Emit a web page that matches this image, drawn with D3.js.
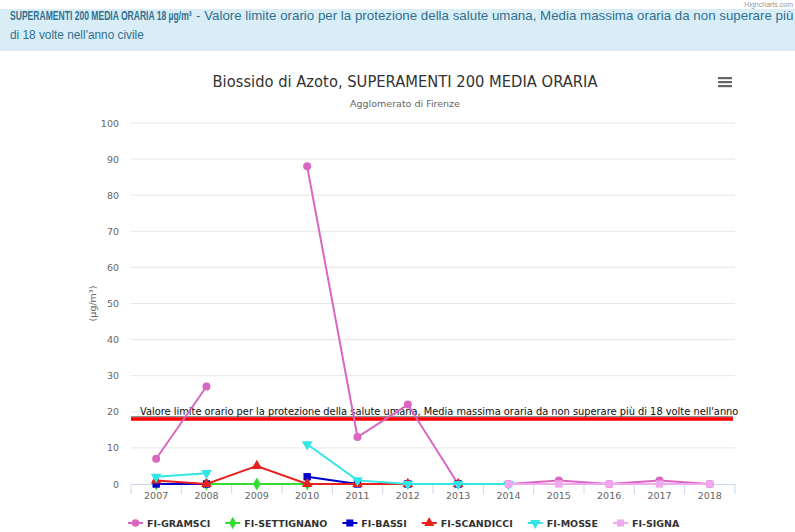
<!DOCTYPE html>
<html>
<head>
<meta charset="utf-8">
<script src="https://cdn.jsdelivr.net/npm/d3@7"></script>
<style>
  body { margin: 0; background: #fff; }
  svg { display: block; font-family: "DejaVu Sans", Verdana, sans-serif; }
</style>
</head>
<body>
<div id="chart"></div>
<script>
// data
var years = ["2007", "2008", "2009", "2010", "2011", "2012", "2013", "2014", "2015", "2016", "2017", "2018"]
var gramsci    = [7, 27, null, 88, 13, 22, 0, 0, 1, 0, 1, 0]
var settignano = [0, 0, 0, 0, null, null, null, null, null, null, null, null]
var bassi      = [0, 0, null, 2, 0, 0, 0, null, null, null, null, null]
var scandicci  = [1, 0, 5, 0, 0, 0, 0, null, null, null, null, null]
var mosse      = [2, 3, null, 11, 1, 0, 0, 0, null, null, null, null]
var signa      = [null, null, null, null, null, null, null, 0, 0, 0, 0, 0]
var yTicks = [0, 10, 20, 30, 40, 50, 60, 70, 80, 90, 100]
var limitValue = 18

var seriesList = [
    { name: "FI-GRAMSCI", values: gramsci, color: "#d966c0", symbol: d3.symbolCircle },
    { name: "FI-SETTIGNANO", values: settignano, color: "#33dd33", symbol: d3.symbolDiamond },
    { name: "FI-BASSI", values: bassi, color: "#0000cc", symbol: d3.symbolSquare },
    { name: "FI-SCANDICCI", values: scandicci, color: "#e8201e", symbol: d3.symbolTriangle },
    { name: "FI-MOSSE", values: mosse, color: "#33e6e6", symbol: d3.symbolTriangle, down: true },
    { name: "FI-SIGNA", values: signa, color: "#f0a8ee", symbol: d3.symbolSquare }
]

var svgWidth = 795
var svgHeight = 532
var margin = { top: 123, bottom: 48, left: 131, right: 60 }

var svg = d3.select("#chart").append("svg")
    .attr("width", svgWidth)
    .attr("height", svgHeight)

// credit
svg.append("text")
    .attr("x", 793).attr("y", 7)
    .attr("text-anchor", "end")
    .attr("font-size", 7)
    .attr("fill", "#999")
    .attr("font-family", "Liberation Sans, Arial, sans-serif")
    .text("Highcharts.com")

// info banner
svg.append("rect")
    .attr("x", 0).attr("y", 9)
    .attr("width", svgWidth).attr("height", 42)
    .attr("fill", "#d9edf7")

var banner = svg.append("g")
    .attr("font-family", "Liberation Sans, Arial, sans-serif")
    .attr("font-size", 12)
    .attr("fill", "#31708f")

// squeeze a text horizontally to a given width (the banner font is condensed)
function squeeze(sel, x, y, width) {
    var w = sel.node().getComputedTextLength()
    sel.attr("transform", `translate(${x}, ${y}) scale(${width / w}, 1)`)
}

banner.append("text")
    .attr("font-weight", "bold")
    .text("SUPERAMENTI 200 MEDIA ORARIA 18 µg/m³")
    .call(squeeze, 10, 20, 182)
banner.append("text")
    .text("- Valore limite orario per la protezione della salute umana, Media massima oraria da non superare più")
    .call(squeeze, 196, 20, 598)
banner.append("text")
    .text("di 18 volte nell'anno civile")
    .call(squeeze, 10, 39, 134)

// title, subtitle
svg.append("text")
    .attr("x", 405).attr("y", 87)
    .attr("text-anchor", "middle")
    .attr("font-size", 15)
    .attr("fill", "#333")
    .attr("textLength", 385).attr("lengthAdjust", "spacingAndGlyphs")
    .text("Biossido di Azoto, SUPERAMENTI 200 MEDIA ORARIA")

svg.append("text")
    .attr("x", 405).attr("y", 107)
    .attr("text-anchor", "middle")
    .attr("font-size", 9.5)
    .attr("fill", "#666")
    .text("Agglomerato di Firenze")

// hamburger icon
var menu = svg.append("g").attr("transform", "translate(718, 77)")
;[0, 4, 8].forEach(function (dy) {
    menu.append("rect")
        .attr("x", 0).attr("y", dy)
        .attr("width", 14).attr("height", 2.2)
        .attr("fill", "#666")
})

var chartWidth = svgWidth - margin.left - margin.right
var chartHeight = svgHeight - margin.top - margin.bottom

var chartGroup = svg.append("g")
    .attr("transform", `translate(${margin.left}, ${margin.top})`)

var xScale = d3.scaleBand()
    .domain(years)
    .range([0, chartWidth])

var yScale = d3.scaleLinear()
    .domain([0, 100])
    .range([chartHeight, 0])

// grid lines
chartGroup.append("g")
    .selectAll("line")
    .data(yTicks.filter(d => d > 0))
    .enter()
    .append("line")
    .attr("x1", 0).attr("x2", chartWidth)
    .attr("y1", d => yScale(d)).attr("y2", d => yScale(d))
    .attr("stroke", "#e6e6e6")

// y axis labels
var yAxis = d3.axisLeft(yScale).tickValues(yTicks).tickSize(0).tickPadding(12)
var yAxisG = chartGroup.append("g").call(yAxis)
yAxisG.select(".domain").remove()
yAxisG.selectAll("text")
    .attr("font-family", "DejaVu Sans, Verdana, sans-serif")
    .attr("font-size", 9.5)
    .attr("fill", "#666")

chartGroup.append("text")
    .attr("transform", `translate(-35, ${yScale(50)}) rotate(-90)`)
    .attr("text-anchor", "middle")
    .attr("font-size", 9.5)
    .attr("fill", "#666")
    .text("(µg/m³)")

// x axis
var xAxis = d3.axisBottom(xScale).tickSize(0).tickPadding(8)
var xAxisG = chartGroup.append("g")
    .attr("transform", `translate(0, ${chartHeight})`)
    .call(xAxis)
xAxisG.select(".domain").attr("stroke", "#ccd6eb")
xAxisG.selectAll("text")
    .attr("font-family", "DejaVu Sans, Verdana, sans-serif")
    .attr("font-size", 9.5)
    .attr("fill", "#666")

// category boundary ticks
xAxisG.append("g")
    .selectAll("line")
    .data(years.concat(["end"]))
    .enter()
    .append("line")
    .attr("x1", (d, i) => i * xScale.step())
    .attr("x2", (d, i) => i * xScale.step())
    .attr("y1", 0).attr("y2", 10)
    .attr("stroke", "#ccd6eb")

// plot line for the limit
var clip = svg.append("clipPath").attr("id", "labelClip")
clip.append("rect")
    .attr("x", 0).attr("y", -20)
    .attr("width", 741 - margin.left).attr("height", chartHeight + 40)

chartGroup.append("line")
    .attr("x1", 0).attr("x2", chartWidth - 2)
    .attr("y1", yScale(limitValue) - 2.2).attr("y2", yScale(limitValue) - 2.2)
    .attr("stroke", "#333")
    .attr("stroke-width", 0.8)
chartGroup.append("line")
    .attr("x1", 0).attr("x2", chartWidth - 2)
    .attr("y1", yScale(limitValue)).attr("y2", yScale(limitValue))
    .attr("stroke", "#ff0000")
    .attr("stroke-width", 3.5)

chartGroup.append("text")
    .attr("clip-path", "url(#labelClip)")
    .attr("x", 9)
    .attr("y", yScale(limitValue) - 4)
    .attr("font-size", 10)
    .attr("fill", "#111")
    .attr("textLength", 627).attr("lengthAdjust", "spacingAndGlyphs")
    .text("Valore limite orario per la protezione della salute umana, Media massima oraria da non superare più di 18 volte nell'anno civile")

// series
var xCenter = d => xScale(d) + xScale.bandwidth() / 2

var line = d3.line()
    .defined(d => d.value !== null)
    .x(d => xCenter(d.year))
    .y(d => yScale(d.value))

function symbolPath(s, size) {
    return d3.symbol().type(s.symbol).size(size)()
}

seriesList.forEach(function (s) {
    var points = years.map((y, i) => ({ year: y, value: s.values[i] }))
    var g = chartGroup.append("g")

    g.append("path")
        .datum(points)
        .attr("d", line)
        .attr("fill", "none")
        .attr("stroke", s.color)
        .attr("stroke-width", 2)

    g.selectAll("path.marker")
        .data(points.filter(d => d.value !== null))
        .enter()
        .append("path")
        .attr("class", "marker")
        .attr("d", symbolPath(s, s.symbol === d3.symbolSquare ? 55 : 50))
        .attr("transform", d => `translate(${xCenter(d.year)}, ${yScale(d.value)})${s.down ? " rotate(180)" : ""}`)
        .attr("fill", s.color)
})

// legend
var legend = svg.append("g")
    .attr("transform", "translate(0, 523)")
var items = legend.selectAll("g")
    .data(seriesList)
    .enter()
    .append("g")

items.append("line")
    .attr("x1", 0).attr("x2", 15)
    .attr("y1", 0).attr("y2", 0)
    .attr("stroke", d => d.color)
    .attr("stroke-width", 2)
items.append("path")
    .attr("d", d => symbolPath(d, d.symbol === d3.symbolSquare ? 50 : 45))
    .attr("transform", d => `translate(7.5, 0)${d.down ? " rotate(180)" : ""}`)
    .attr("fill", d => d.color)
items.append("text")
    .attr("x", 19)
    .attr("y", 3.5)
    .attr("font-size", 9.5)
    .attr("font-weight", "bold")
    .attr("fill", "#333")
    .text(d => d.name)

var gap = 15
var offset = 0
var positions = []
items.each(function () {
    positions.push(offset)
    offset += this.getBBox().width + gap
})
var totalWidth = offset - gap
var startX = 404 - totalWidth / 2
items.attr("transform", (d, i) => `translate(${startX + positions[i]}, 0)`)
</script>
</body>
</html>
